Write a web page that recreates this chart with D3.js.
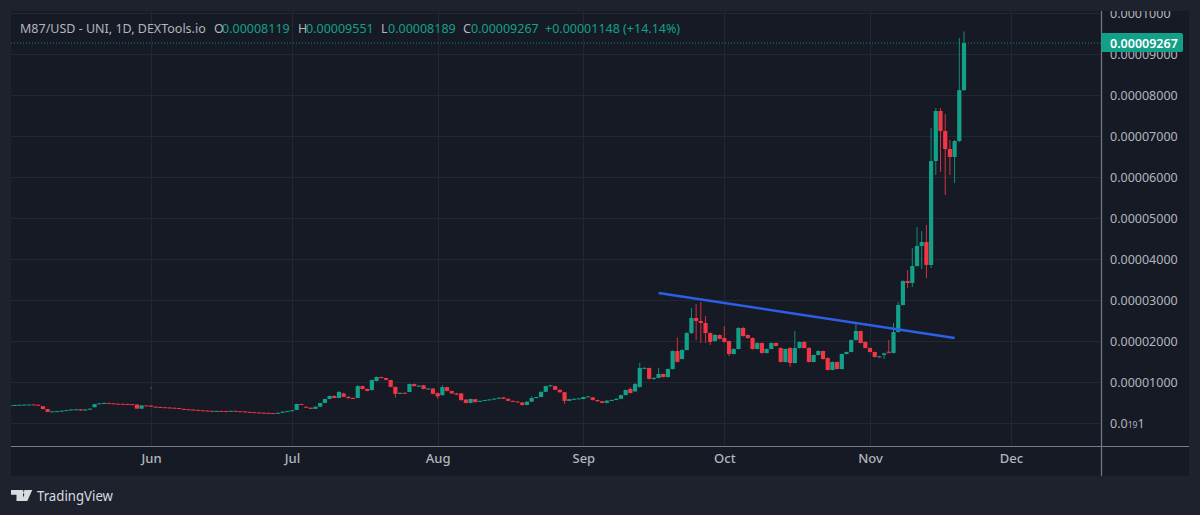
<!DOCTYPE html>
<html>
<head>
<meta charset="utf-8">
<title>M87/USD</title>
<script src="https://cdn.jsdelivr.net/npm/d3@7"></script>
<style>
html, body { margin: 0; padding: 0; background: #1e222d; }
svg { display: block; font-family: "Noto Sans", sans-serif; }
.tick line { shape-rendering: crispEdges; }
</style>
</head>
<body>
<div id="chart"></div>
<script>
// daily candles, May 2 to Nov 21, prices in units of 0.00000001
var firstDay = "2024-05-02";

var opens = [
    430,435,440,445,450,452,445,410,340,275,285,290,300,315,330,335,305,330,385,460,480,490,480,470,468,465,460,450,350,430,
    425,398,392,385,378,372,365,345,335,328,320,312,303,296,293,295,293,292,297,288,282,272,265,258,252,248,244,236,250,276,
    300,317,463,397,373,345,398,488,585,660,610,720,640,610,610,900,830,805,1024,1122,1098,1049,880,720,735,756,951,900,920,830,840,
    730,680,875,780,720,720,570,490,580,520,540,560,575,595,625,590,540,525,500,440,520,610,634,760,900,900,810,750,540,580,590,
    585,634,625,560,530,490,545,560,590,680,830,770,880,1340,1340,1075,1098,1195,1120,1315,1755,1560,1780,2195,2561,2488,2439,2195,2000,2146,
    2073,2000,1683,1805,2317,2146,2073,1805,1951,1707,1805,1951,1830,1488,1830,1463,1829,1976,1829,1488,1659,1756,1585,1293,1488,1317,1683,1732,2024,2244,1976,
    1829,1732,1610,1660,1740,1710,2220,2878,3463,3415,3829,4317,4415,3854,6390,7610,7122,6683,6488,6878,8119
];
var highs = [
    440,445,450,455,458,455,447,415,345,290,295,305,320,335,340,338,335,355,465,485,495,492,482,472,470,467,462,455,435,432,
    430,402,396,389,382,376,368,348,338,331,323,314,305,298,298,297,295,300,298,290,284,274,267,260,254,250,246,255,280,295,
    315,470,468,400,378,402,492,592,668,672,780,740,650,625,930,910,840,1060,1135,1130,1105,1055,890,750,750,965,960,925,930,855,850,
    745,920,885,790,735,735,585,595,590,548,566,581,600,622,632,597,546,530,510,528,650,640,770,915,930,910,820,760,590,597,610,
    640,660,632,568,538,552,570,600,690,815,870,975,1465,1360,1350,1115,1340,1205,1330,1770,2085,1800,2215,2805,2902,2951,2610,2210,2170,2160,
    2366,2010,1825,2340,2340,2160,2085,1965,1965,1820,1965,1965,1840,1815,1845,2244,1990,2000,1850,1670,1770,1770,1600,1500,1500,1695,1745,2040,2439,2255,1990,
    1840,1745,1640,1715,2024,2439,2951,3480,3732,4268,4780,4683,4829,7195,7683,7683,7537,6902,6902,9390,9551
];
var lows = [
    425,432,438,442,447,442,428,335,265,270,282,288,298,312,326,300,302,327,382,455,476,478,466,465,462,456,446,345,345,420,
    394,388,381,374,368,361,341,331,324,316,308,299,292,289,291,289,288,288,284,278,268,261,254,248,244,240,232,232,246,272,
    295,315,435,368,340,342,395,485,582,605,605,630,600,585,605,815,775,790,1015,1090,1040,870,620,710,720,750,890,890,820,820,700,
    590,670,770,710,680,540,480,480,500,515,535,555,570,590,585,533,518,500,420,435,515,600,625,750,890,800,740,463,535,575,585,
    580,625,550,522,482,485,540,555,585,675,720,760,860,1320,1060,1050,1090,1110,1110,1305,1480,1550,1770,2170,2024,1951,1951,1902,1985,2040,
    1960,1630,1670,1795,2105,2050,1790,1795,1695,1690,1795,1870,1475,1475,1366,1450,1815,1815,1475,1475,1650,1545,1280,1285,1305,1305,1670,1725,2015,1940,1815,
    1720,1595,1595,1561,1700,1690,2205,2865,3293,3317,3815,3756,3537,3780,6049,6122,5561,6049,5854,6850,8100
];
var closes = [
    435,440,445,450,452,445,432,340,270,285,290,300,315,330,335,305,330,350,460,480,490,480,470,468,465,460,450,350,430,425,
    398,392,385,378,372,365,345,335,328,320,312,303,296,293,295,293,292,297,288,282,272,265,258,252,248,244,236,250,276,290,
    310,463,440,373,345,398,488,585,660,610,756,640,605,590,900,830,780,1049,1122,1098,1050,880,710,735,730,951,900,910,830,840,710,
    650,875,780,720,690,560,490,585,510,540,560,575,595,615,590,540,525,510,440,520,610,634,760,900,920,810,750,540,580,590,600,
    634,650,560,530,490,545,560,590,680,805,730,950,1340,1345,1075,1100,1195,1120,1315,1755,1490,1780,2195,2561,2488,2439,2195,1976,2146,2050,
    1976,1683,1805,2317,2122,2073,1805,1951,1707,1805,1951,1880,1488,1805,1463,1829,1976,1829,1488,1659,1756,1560,1293,1488,1317,1683,1732,2024,2244,1951,1829,
    1732,1610,1625,1700,1710,2220,2878,3463,3415,3829,4317,4415,3854,6390,7610,7122,6683,6488,6878,8119,9267
];

// lone print left on the chart at the start of June
var strayDates = ["2024-06-01"];
var strayPrices = [854];

var priceTicks = [0,1000,2000,3000,4000,5000,6000,7000,8000,9000,10000];
var priceLabels = ["","0.00001000","0.00002000","0.00003000","0.00004000","0.00005000","0.00006000","0.00007000","0.00008000","0.00009000","0.0001000"];
var monthTicks = ["2024-06-01","2024-07-01","2024-08-01","2024-09-01","2024-10-01","2024-11-01","2024-12-01"];
var monthLabels = ["Jun","Jul","Aug","Sep","Oct","Nov","Dec"];

var trendDates = ["2024-09-17","2024-11-19"];
var trendPrices = [3171,2073];

var lastClose = 9267;
var lastCloseLabel = "0.00009267";

var titleText = "M87/USD - UNI, 1D, DEXTools.io";
var ohlcKeys = ["O","H","L","C"];
var ohlcValues = ["0.00008119","0.00009551","0.00008189","0.00009267"];
var changeText = "+0.00001148 (+14.14%)";

var W = 1200, H = 515;
var left = 11, top_ = 11, right = 1101.5, bottom = 446.5, axisRight = 1189, axisBottom = 476;

var C_UP = "#12a088", C_DOWN = "#f23645", C_GRID = "#232733", C_AXIS = "#767986", C_TEXT = "#b2b5be";

var parse = d3.utcParse("%Y-%m-%d");
var dayMs = 86400000;
var candles = closes.map(function (c, i) {
    return {
        date: new Date(parse(firstDay).getTime() + i * dayMs),
        open: opens[i], high: highs[i], low: lows[i], close: c
    };
});

var x = d3.scaleUtc()
    .domain([parse("2024-06-01"), parse("2024-12-01")])
    .range([151, 1011]);
var y = d3.scaleLinear()
    .domain([0, 10000])
    .range([423, 13]);

var svg = d3.select("#chart").append("svg")
    .attr("width", W).attr("height", H);

svg.append("rect").attr("width", W).attr("height", H).attr("fill", "#1e222d");
svg.append("rect")
    .attr("x", left).attr("y", top_)
    .attr("width", axisRight - left).attr("height", axisBottom - top_)
    .attr("fill", "#161a25");

var defs = svg.append("defs");
defs.append("clipPath").attr("id", "pane").append("rect")
    .attr("x", left).attr("y", top_).attr("width", right - left).attr("height", bottom - top_);
defs.append("clipPath").attr("id", "priceAxis").append("rect")
    .attr("x", right).attr("y", top_).attr("width", axisRight - right).attr("height", bottom - top_);

// grid
var monthDates = monthTicks.map(parse);
var gridX = svg.append("g")
    .attr("transform", "translate(0," + bottom + ")")
    .call(d3.axisBottom(x).tickValues(monthDates).tickSize(-(bottom - top_)).tickFormat(""));
gridX.select(".domain").remove();
gridX.selectAll("line").attr("stroke", C_GRID);

var gridY = svg.append("g")
    .attr("transform", "translate(" + left + ",0)")
    .call(d3.axisRight(y).tickValues(priceTicks).tickSize(right - left).tickFormat(""));
gridY.select(".domain").remove();
gridY.selectAll("line").attr("stroke", C_GRID);

// candles
var plot = svg.append("g").attr("clip-path", "url(#pane)");
var bodyW = 4.2;

plot.selectAll(".wick").data(candles).enter().append("line")
    .attr("class", "wick")
    .attr("x1", function (d) { return x(d.date); })
    .attr("x2", function (d) { return x(d.date); })
    .attr("y1", function (d) { return y(d.high); })
    .attr("y2", function (d) { return y(d.low); })
    .attr("stroke-width", 1)
    .attr("stroke", function (d) { return d.close >= d.open ? C_UP : C_DOWN; })
    .attr("opacity", 0.85);

plot.selectAll(".body").data(candles).enter().append("rect")
    .attr("class", "body")
    .attr("x", function (d) { return x(d.date) - bodyW / 2; })
    .attr("y", function (d) { return y(Math.max(d.open, d.close)); })
    .attr("width", bodyW)
    .attr("height", function (d) { return Math.max(1, Math.abs(y(d.open) - y(d.close))); })
    .attr("fill", function (d) { return d.close >= d.open ? C_UP : C_DOWN; });

plot.selectAll(".stray").data(strayDates).enter().append("rect")
    .attr("class", "stray")
    .attr("x", function (d) { return x(parse(d)) - 0.5; })
    .attr("y", function (d, i) { return y(strayPrices[i]) - 0.5; })
    .attr("width", 1).attr("height", 1.5)
    .attr("fill", "#5d6b78");

// trend line
plot.append("line")
    .attr("x1", x(parse(trendDates[0]))).attr("y1", y(trendPrices[0]))
    .attr("x2", x(parse(trendDates[1]))).attr("y2", y(trendPrices[1]))
    .attr("stroke", "#2b5fe6").attr("stroke-width", 2.6);

// last price line
plot.append("line")
    .attr("x1", left).attr("x2", right)
    .attr("y1", y(lastClose)).attr("y2", y(lastClose))
    .attr("stroke", C_UP).attr("stroke-width", 1)
    .attr("stroke-dasharray", "1,2").attr("opacity", 0.8);

// price axis, wrapped so the clip stays in page coordinates
var priceAxis = svg.append("g").attr("clip-path", "url(#priceAxis)").append("g")
    .attr("transform", "translate(" + right + ",0)")
    .call(d3.axisRight(y).tickValues(priceTicks).tickSize(0).tickPadding(8.5)
        .tickFormat(function (d, i) { return priceLabels[i]; }));
priceAxis.select(".domain").remove();
priceAxis.selectAll("text")
    .attr("fill", C_TEXT).attr("font-size", 12.5).attr("font-family", '"Noto Sans", sans-serif');

// the lowest tick is written with a subscript for the zero count
var lowTick = priceAxis.selectAll("text").filter(function (d) { return d === 0; });
lowTick.append("tspan").text("0.0");
lowTick.append("tspan").attr("font-size", 8.5).text("19");
lowTick.append("tspan").text("1");

// time axis
var timeAxis = svg.append("g")
    .attr("transform", "translate(0," + bottom + ")")
    .call(d3.axisBottom(x).tickValues(monthDates).tickSize(0).tickPadding(7)
        .tickFormat(function (d, i) { return monthLabels[i]; }));
timeAxis.select(".domain").remove();
timeAxis.selectAll("text")
    .attr("fill", C_TEXT).attr("font-size", 13).attr("font-weight", 500)
    .attr("font-family", '"Noto Sans", sans-serif');

// pane separators
svg.append("line").attr("x1", left).attr("x2", axisRight).attr("y1", bottom).attr("y2", bottom)
    .attr("stroke", C_AXIS).attr("stroke-width", 1.2);
svg.append("line").attr("x1", right).attr("x2", right).attr("y1", top_).attr("y2", axisBottom)
    .attr("stroke", C_AXIS).attr("stroke-width", 1.2);

// last price tag
var tagY = y(lastClose);
svg.append("path")
    .attr("d", "M" + right + "," + (tagY - 10) + "H1181a2,2 0 0 1 2,2V" + (tagY + 7) + "a2,2 0 0 1 -2,2H" + right + "Z")
    .attr("fill", C_UP);
svg.append("text")
    .attr("x", 1110).attr("y", tagY + 4.5)
    .attr("fill", "#ffffff").attr("font-size", 12.5).attr("font-weight", 600)
    .text(lastCloseLabel);

// legend line
var legend = svg.append("g").attr("font-size", 12.5).attr("font-family", '"Noto Sans", sans-serif');
legend.append("text").attr("x", 20).attr("y", 32.5).attr("fill", C_TEXT).text(titleText);
var keyX = [214, 298, 381, 463];
var valX = [222, 306, 388, 471];
ohlcKeys.forEach(function (k, i) {
    legend.append("text").attr("x", keyX[i]).attr("y", 32.5).attr("fill", C_TEXT).text(k);
    legend.append("text").attr("x", valX[i]).attr("y", 32.5).attr("fill", C_UP).text(ohlcValues[i]);
});
legend.append("text").attr("x", 545).attr("y", 32.5).attr("fill", C_UP).text(changeText);

// TradingView mark
var logo = svg.append("g").attr("fill", "#d8dae0");
logo.append("path").attr("d", "M11,490H23V501H16.5V494.8H11Z");
logo.append("circle").attr("cx", 25.6).attr("cy", 492.4).attr("r", 2.4);
logo.append("path").attr("d", "M26.5,490H32.3L27.3,501H21.3Z");
svg.append("text")
    .attr("x", 37).attr("y", 501)
    .attr("fill", "#d8dae0").attr("font-size", 14.5)
    .attr("textLength", 76).attr("lengthAdjust", "spacingAndGlyphs")
    .text("TradingView");
</script>
</body>
</html>
